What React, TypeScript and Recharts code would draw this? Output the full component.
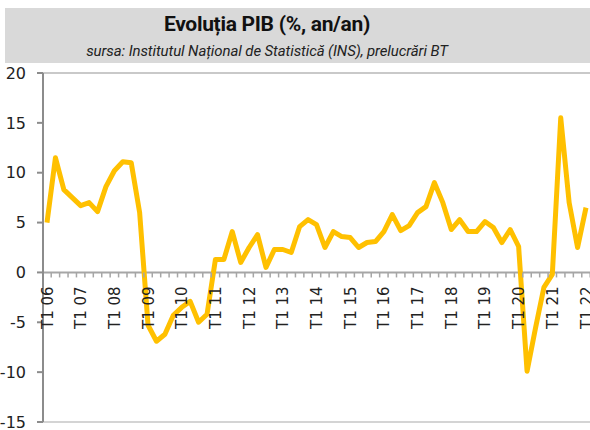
import { LineChart, Line, XAxis, YAxis, ReferenceLine } from "recharts"

// ani 2006 - 2022, trimestre T1..T4
const years = ["06", "07", "08", "09", "10", "11", "12", "13", "14", "15", "16", "17", "18", "19", "20", "21", "22"]
const quarterNames = ["T1", "T2", "T3", "T4"]

// PIB, %, an/an (T1 06 .. T1 22)
const gdpGrowth = [
  5.0, 11.5, 8.3, 7.5,
  6.7, 7.0, 6.1, 8.6,
  10.2, 11.1, 11.0, 6.0,
  -5.3, -6.9, -6.2, -4.3,
  -3.5, -2.9, -5.0, -4.2,
  1.3, 1.3, 4.1, 1.0,
  2.5, 3.8, 0.5, 2.3,
  2.3, 2.0, 4.6, 5.3,
  4.8, 2.5, 4.1, 3.6,
  3.5, 2.5, 3.0, 3.1,
  4.1, 5.8, 4.2, 4.7,
  6.0, 6.6, 9.0, 7.0,
  4.3, 5.3, 4.1, 4.1,
  5.1, 4.5, 3.0, 4.3,
  2.6, -9.9, -5.6, -1.5,
  -0.2, 15.5, 7.0, 2.5,
  6.5,
]

const yTicks = [-15, -10, -5, 0, 5, 10, 15, 20]

const quarters = years.flatMap((y) => quarterNames.map((q) => `${q} ${y}`))
const data = gdpGrowth.map((v, i) => ({ q: quarters[i], gdp: v }))

const W = 590
const H = 430
const TOP = 73
const BOTTOM = 7
const Y_MIN = -15
const Y_MAX = 20
const PLOT_H = H - TOP - BOTTOM - 1
const zeroY = TOP + (PLOT_H * Y_MAX) / (Y_MAX - Y_MIN)
const HALF_STEP = 4.2

const axisFont = "'DejaVu Sans', sans-serif"

const QuarterTick = (props: any) => {
  const { x, payload } = props
  const label: string = payload.value
  return (
    <g>
      <line x1={x + HALF_STEP} x2={x + HALF_STEP} y1={zeroY} y2={zeroY + 5} stroke="#a6a6a6" strokeWidth={1.5} />
      {label.startsWith("T1") && (
        <text
          transform={`translate(${x + 5.5},${zeroY + 14}) rotate(-90)`}
          textAnchor="end"
          fontSize={15}
          fontFamily={axisFont}
          fill="#222"
        >
          {label}
        </text>
      )}
    </g>
  )
}

export default function App() {
  return (
    <div style={{ position: "absolute", left: 0, top: 0, width: W, height: H, background: "#fff" }}>
      <div style={{ position: "absolute", left: 5, top: 8, width: 585, height: 55, background: "#d9d9d9" }} />
      <div
        style={{
          position: "absolute",
          left: 5,
          top: 8,
          width: 524,
          textAlign: "center",
          fontFamily: "Roboto, sans-serif",
          color: "#111",
        }}
      >
        <div style={{ fontSize: 21, fontWeight: 700, lineHeight: "32px", letterSpacing: -0.3 }}>Evoluția PIB (%, an/an)</div>
        <div style={{ fontSize: 15, fontStyle: "italic", lineHeight: "20px", marginTop: 1, color: "#222", letterSpacing: -0.1 }}>
          sursa: Institutul Național de Statistică (INS), prelucrări BT
        </div>
      </div>
      <div style={{ position: "absolute", left: 0, top: 0 }}>
        <LineChart width={W} height={H} data={data} margin={{ top: TOP, right: 0, bottom: BOTTOM, left: 0 }}>
          <ReferenceLine y={Y_MAX} stroke="#c9c9c9" strokeWidth={2} />
          <ReferenceLine y={Y_MIN} stroke="#d4d4d4" strokeWidth={2} />
          <ReferenceLine y={0} stroke="#a6a6a6" strokeWidth={2} />
          <XAxis
            dataKey="q"
            interval={0}
            height={1}
            axisLine={false}
            tickLine={false}
            padding={{ left: 4, right: 4 }}
            tick={<QuarterTick />}
          />
          <YAxis
            domain={[Y_MIN, Y_MAX]}
            ticks={yTicks}
            interval={0}
            allowDataOverflow
            width={43}
            tickSize={6}
            tickMargin={11}
            axisLine={{ stroke: "#8c8c8c", strokeWidth: 2 }}
            tickLine={{ stroke: "#8c8c8c", strokeWidth: 2 }}
            tick={{ fontSize: 16, fontFamily: axisFont, fill: "#222" }}
          />
          <Line
            type="linear"
            dataKey="gdp"
            stroke="#ffc000"
            strokeWidth={5}
            strokeLinejoin="round"
            dot={false}
            isAnimationActive={false}
          />
        </LineChart>
      </div>
    </div>
  )
}
